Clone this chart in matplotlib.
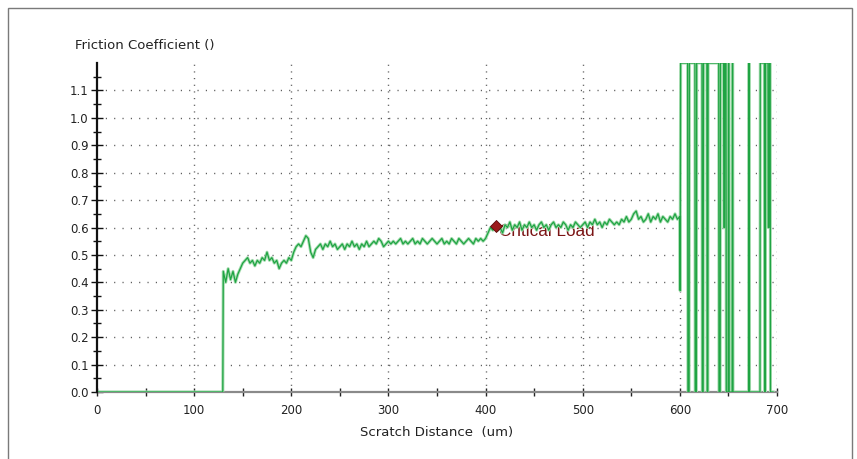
import numpy as np
import matplotlib
matplotlib.use("Agg")
import matplotlib.pyplot as plt
from matplotlib.patches import Rectangle
from matplotlib.ticker import MultipleLocator, FixedLocator

plt.rcParams['font.family'] = ['DejaVu Sans']

# ---- data ----
# baseline before contact
start_x = [0.0, 129.5]
start_y = [0.0, 0.0]

# friction trace sampled every 2.5 um from 130 to 600
trace_step = 2.5
trace_start = 130.0
trace_y = [
    0.44, 0.40, 0.45, 0.41, 0.44, 0.40, 0.43, 0.45, 0.47,
    0.48, 0.49, 0.47, 0.48, 0.46, 0.48, 0.47, 0.49, 0.48, 0.51,
    0.48, 0.49, 0.47, 0.48, 0.45, 0.47, 0.48, 0.47, 0.49, 0.48,
    0.51, 0.53, 0.54, 0.53, 0.55, 0.57, 0.56, 0.51, 0.49, 0.52,
    0.53, 0.54, 0.52, 0.54, 0.53, 0.55, 0.53, 0.54, 0.52, 0.53,
    0.54, 0.52, 0.54, 0.53, 0.55, 0.53, 0.54, 0.52, 0.54, 0.53,
    0.55, 0.53, 0.54, 0.55, 0.54, 0.56, 0.55, 0.53, 0.54, 0.55,
    0.54, 0.55, 0.54, 0.55, 0.56, 0.54, 0.55, 0.54, 0.55, 0.56,
    0.54, 0.55, 0.54, 0.56, 0.55, 0.54, 0.55, 0.56, 0.55, 0.54,
    0.55, 0.56, 0.54, 0.55, 0.54, 0.56, 0.55, 0.54, 0.56, 0.55,
    0.54, 0.55, 0.56, 0.55, 0.54, 0.56, 0.55, 0.56, 0.55, 0.56,
    0.58, 0.60, 0.59, 0.61, 0.59, 0.60, 0.58, 0.61, 0.60, 0.62,
    0.59, 0.61, 0.60, 0.62, 0.59, 0.61, 0.60, 0.62, 0.60, 0.61,
    0.59, 0.61, 0.62, 0.60, 0.61, 0.59, 0.61, 0.62, 0.60, 0.61,
    0.60, 0.62, 0.61, 0.59, 0.61, 0.60, 0.62, 0.61, 0.60, 0.61,
    0.62, 0.60, 0.62, 0.61, 0.63, 0.61, 0.62, 0.60, 0.62, 0.61,
    0.63, 0.62, 0.61, 0.62, 0.61, 0.63, 0.62, 0.64, 0.62, 0.63,
    0.65, 0.66, 0.63, 0.64, 0.62, 0.63, 0.65, 0.62, 0.64, 0.63,
    0.65, 0.62, 0.64, 0.63, 0.62, 0.64, 0.63, 0.65, 0.63, 0.64,
]

# failure region: signal jumping between saturation and zero
end_x = [600.3, 600.8, 608.0, 608.3, 609.5, 609.8, 615.5, 615.8, 617.0, 617.3,
         622.8, 623.1, 624.0, 624.3, 627.8, 628.1, 628.8, 629.1, 640.0, 640.3,
         641.5, 641.8, 645.0, 645.3, 646.0, 646.3, 647.5, 647.8, 649.7, 650.0,
         650.5, 650.8, 653.8, 654.1, 654.4, 654.7, 670.8, 671.1, 671.4, 671.7,
         682.5, 682.8, 687.0, 687.3, 688.0, 688.3, 690.7, 691.0, 691.8, 692.1,
         693.0, 693.3, 696.0]
end_y = [0.37, 1.2, 1.2, 0.0, 0.0, 1.2, 1.2, 0.0, 0.0, 1.2,
         1.2, 0.0, 0.0, 1.2, 1.2, 0.0, 0.0, 1.2, 1.2, 0.0,
         0.0, 1.2, 1.2, 0.6, 0.6, 1.2, 1.2, 0.0, 0.0, 1.2,
         1.2, 0.0, 0.0, 1.2, 1.2, 0.0, 0.0, 1.2, 1.2, 0.0,
         0.0, 1.2, 1.2, 0.0, 0.0, 1.2, 1.2, 0.6, 0.6, 1.2,
         1.2, 0.0, 0.0]

critical_x = 411.0
critical_y = 0.604
critical_label = "Critical Load"

x_ticks = [0, 100, 200, 300, 400, 500, 600, 700]
y_ticks = [0.0, 0.1, 0.2, 0.3, 0.4, 0.5, 0.6, 0.7, 0.8, 0.9, 1.0, 1.1]

# ---- figure ----
W, H = 857, 459
fig = plt.figure(figsize=(W / 100, H / 100), dpi=100)
fig.patch.set_facecolor('white')

# outer frame
fig.add_artist(Rectangle((8 / W, -0.02), (852 - 8) / W, 1 - 8 / H + 0.02,
                         transform=fig.transFigure, fill=False,
                         edgecolor='#7a7a7a', linewidth=1.0))

ax = fig.add_axes([97 / W, (H - 392) / H, (777 - 97) / W, (392 - 63) / H])

trace_x = trace_start + trace_step * np.arange(len(trace_y))
xs = np.concatenate([start_x, trace_x, end_x])
ys = np.concatenate([start_y, trace_y, end_y])

ax.plot(xs, ys, color='#a6dcb0', linewidth=2.2, solid_joinstyle='round', zorder=3)
ax.plot(xs, ys, color='#1fa443', linewidth=0.9, solid_joinstyle='round', zorder=4)

ax.plot([critical_x], [critical_y], marker='D', markersize=6.5,
        color='#9b1b1b', markeredgecolor='#5a0a0a', markeredgewidth=0.6, zorder=5)
ax.text(critical_x + 3.0, critical_y - 0.018, critical_label, color='#7a1414',
        fontsize=12.3, va='center', ha='left', zorder=2,
        family=['Liberation Sans', 'DejaVu Sans'])

ax.set_xlim(0, 700)
ax.set_ylim(0, 1.2)

ax.xaxis.set_major_locator(FixedLocator(x_ticks))
ax.xaxis.set_minor_locator(MultipleLocator(50))
ax.yaxis.set_major_locator(FixedLocator(y_ticks))
ax.yaxis.set_minor_locator(FixedLocator(np.arange(0.05, 1.2, 0.1)))
ax.set_yticklabels([f"{v:.1f}" for v in y_ticks])

ax.tick_params(axis='x', which='both', direction='inout', length=6, width=1,
               color='#222222', labelsize=8.5, labelcolor='#222222', pad=6)
ax.tick_params(axis='y', which='major', direction='inout', length=8, width=1,
               color='#111111', labelsize=8.5, labelcolor='#222222', pad=2)
ax.tick_params(axis='y', which='minor', direction='inout', length=6, width=1,
               color='#111111')

for s in ['top', 'right']:
    ax.spines[s].set_visible(False)
ax.spines['left'].set_color('#111111')
ax.spines['left'].set_linewidth(1.6)
ax.spines['bottom'].set_color('#8a8a8a')
ax.spines['bottom'].set_linewidth(1.6)
ax.spines['left'].set_zorder(6)
ax.spines['bottom'].set_zorder(2)

# dotted grid
for gx in x_ticks[1:]:
    ax.axvline(gx, color='#555555', linewidth=1.0, linestyle=(0, (0.8, 4.0)), zorder=1)
for gy in y_ticks[1:]:
    ax.axhline(gy, color='#555555', linewidth=1.0, linestyle=(0, (0.8, 5.2)), zorder=1)

ax.set_xlabel("Scratch Distance  (um)", fontsize=9.5, color='#222222', labelpad=6)
fig.text(75 / W, 1 - 45 / H, "Friction Coefficient ()", fontsize=9.5,
         color='#222222', ha='left', va='center')

fig.savefig("out.png", dpi=100, facecolor='white')
